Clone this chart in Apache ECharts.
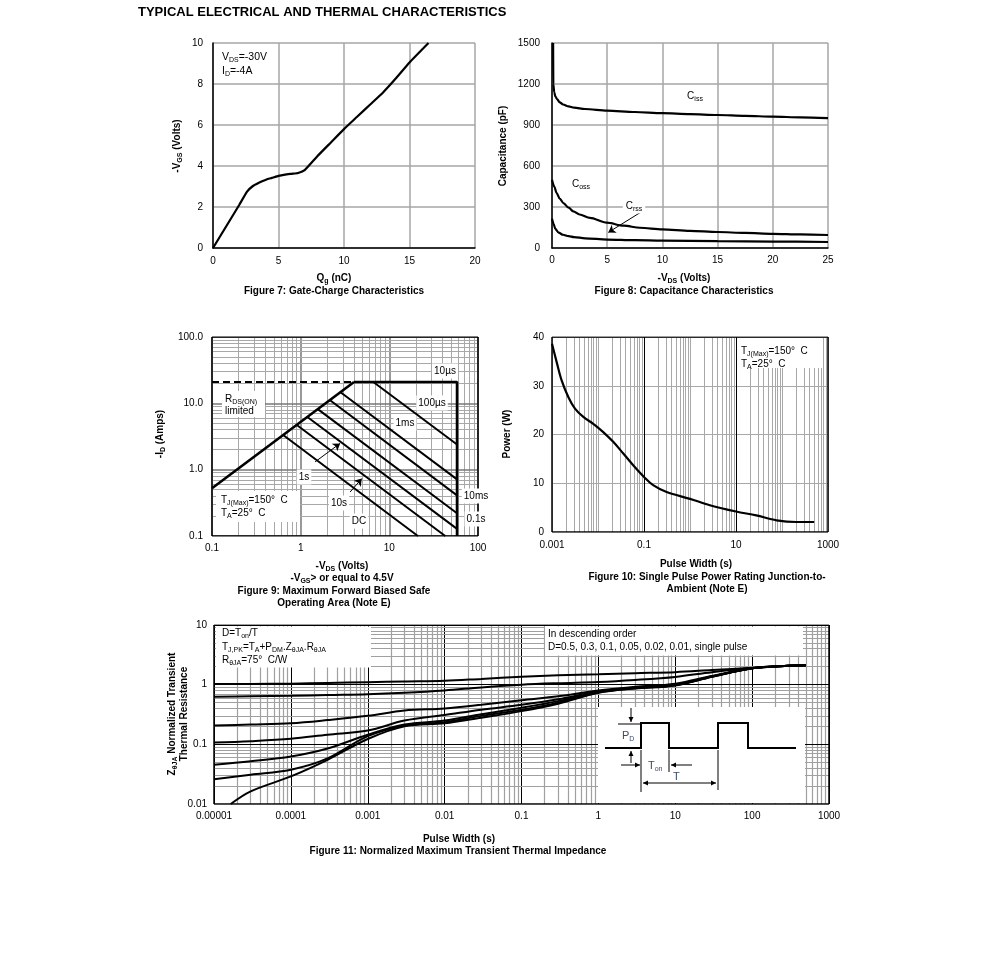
<!DOCTYPE html>
<html>
<head>
<meta charset="utf-8">
<title>Typical Electrical and Thermal Characteristics</title>
<script src="https://cdn.jsdelivr.net/npm/echarts@6/dist/echarts.min.js"></script>
<style>
html, body { margin:0; padding:0; background:#fff; }
#chart { width:991px; height:958px; }
</style>
</head>
<body>
<div id="chart"></div>
<script>
// ---------- Figure 7: gate charge ----------
const gateQg  = [0, 1, 2, 2.6, 3, 3.5, 4, 4.5, 5, 5.5, 6, 6.5, 7, 8, 9, 10, 11, 12, 13, 14, 15, 16.45];
const gateVgs = [0, 1.05, 2.1, 2.75, 3.0, 3.18, 3.32, 3.42, 3.52, 3.58, 3.62, 3.66, 3.8, 4.5, 5.15, 5.8, 6.4, 7.0, 7.6, 8.3, 9.05, 10];

// ---------- Figure 8: capacitance ----------
const cissVds = [0.1, 0.12, 0.2, 0.3, 0.45, 0.7, 1, 1.5, 2, 3, 5, 7.5, 10, 12.5, 15, 17.5, 20, 22.5, 25];
const cissPf  = [1500, 1200, 1140, 1110, 1090, 1066, 1050, 1036, 1027, 1017, 1005, 995, 987, 980, 973, 967, 961, 956, 951];
const cossVds = [0, 0.2, 0.42, 0.7, 1.03, 1.5, 1.93, 2.5, 3.44, 4.95, 6.5, 7.96, 10, 12.5, 15, 17.5, 20, 22.5, 25];
const cossPf  = [500, 450, 402, 362, 329, 295, 268, 245, 220, 185, 163, 148, 136, 125, 117, 110, 104, 99, 95];
const crssVds = [0, 0.15, 0.3, 0.6, 1, 1.5, 2, 3, 5, 7.5, 10, 15, 20, 25];
const crssPf  = [215, 175, 140, 112, 97, 87, 80, 71, 62, 57, 54, 50, 47, 44];
const crssArrowVds = [8.4, 5.1];
const crssArrowPf  = [280, 114];

// ---------- Figure 9: safe operating area ----------
const soaRdsVds  = [0.1, 4.0];
const soaRdsId   = [0.525, 21];
const soaDashVds = [0.1, 4.0];
const soaDashId  = [21, 21];
const soa10usVds = [4.0, 58, 58];
const soa10usId  = [21, 21, 0.1];
const soaPulseNames = ['100µs', '1ms', '10ms', '0.1s', '1s', '10s', 'DC'];
const soaStartVds = [6.6, 2.84, 2.11, 1.56, 1.17, 0.904, 0.64];
const soaStartId  = [21, 14.6, 11.3, 8.17, 6.32, 4.72, 3.3];
const soaEndVds   = [58, 58, 58, 58, 58, 42.7, 21];
const soaEndId    = [2.4, 0.715, 0.41, 0.22, 0.128, 0.1, 0.1];
const soaArrowFromVds = [1.454, 3.61];
const soaArrowFromId  = [1.31, 0.46];
const soaArrowToVds   = [2.785, 4.89];
const soaArrowToId    = [2.49, 0.733];

// ---------- Figure 10: single pulse power ----------
const spPulse = [0.001, 0.00126, 0.00162, 0.00226, 0.00316, 0.0048, 0.0079, 0.013, 0.0214, 0.0355, 0.0582, 0.1, 0.158, 0.31, 1, 2.7, 10, 27.5, 76, 204, 500];
const spPower = [38.6, 34.9, 31.1, 27.7, 25.3, 23.6, 22.2, 20.5, 18.5, 16.1, 13.7, 11.3, 9.6, 8.2, 6.8, 5.5, 4.2, 3.4, 2.4, 2.05, 2.05];

// ---------- Figure 11: transient thermal impedance ----------
const zthTime = [1e-5, 3e-5, 1e-4, 3e-4, 1e-3, 3e-3, 1e-2, 3e-2, 0.1, 0.3, 1, 3, 10, 30, 100, 300, 500];
const zthD05  = [1.03, 1.03, 1.04, 1.07, 1.10, 1.13, 1.16, 1.25, 1.36, 1.44, 1.50, 1.56, 1.62, 1.76, 1.92, 2.08, 2.12];
const zthD03  = [0.63, 0.64, 0.65, 0.67, 0.69, 0.73, 0.80, 0.90, 1.00, 1.06, 1.11, 1.20, 1.35, 1.62, 1.90, 2.08, 2.12];
const zthD01  = [0.207, 0.215, 0.226, 0.255, 0.30, 0.37, 0.40, 0.46, 0.55, 0.64, 0.80, 0.92, 1.04, 1.40, 1.89, 2.08, 2.12];
const zthD005 = [0.107, 0.113, 0.124, 0.145, 0.17, 0.25, 0.31, 0.38, 0.46, 0.57, 0.77, 0.90, 1.00, 1.38, 1.89, 2.08, 2.12];
const zthD002 = [0.0455, 0.052, 0.0625, 0.085, 0.145, 0.215, 0.25, 0.32, 0.41, 0.53, 0.75, 0.88, 0.99, 1.37, 1.89, 2.08, 2.12];
const zthD001 = [0.026, 0.031, 0.0375, 0.058, 0.137, 0.205, 0.235, 0.30, 0.38, 0.50, 0.74, 0.87, 0.98, 1.36, 1.89, 2.08, 2.12];
const zthSingleTime = [1.65e-5, 3e-5, 1e-4, 3e-4, 1e-3, 3e-3, 1e-2, 3e-2, 0.1, 0.3, 1, 3, 10, 30, 100, 300, 500];
const zthSingle = [0.01, 0.0163, 0.029, 0.055, 0.123, 0.2, 0.225, 0.28, 0.36, 0.48, 0.73, 0.86, 0.97, 1.35, 1.89, 2.08, 2.12];

// ---------- tick labels ----------
const fig9XTicks  = ['0.1', '1', '10', '100'];
const fig9YTicks  = ['0.1', '1.0', '10.0', '100.0'];
const fig10XTicks = ['0.001', '', '0.1', '', '10', '', '1000'];
const fig11XTicks = ['0.00001', '0.0001', '0.001', '0.01', '0.1', '1', '10', '100', '1000'];
const fig11YTicks = ['0.01', '0.1', '1', '10'];

// ================= build =================
const FONT = "'Liberation Sans', Arial, Helvetica, sans-serif";
const zip = (a, b) => a.map((v, i) => [v, b[i]]);
const plain = v => String(v);

function logFmt(labels, min) {
  return v => { const i = Math.round(Math.log10(v / min)); return labels[i] !== undefined ? labels[i] : ''; };
}
function logSteps(min, max) {
  const out = [];
  const d0 = Math.round(Math.log10(min)), d1 = Math.round(Math.log10(max));
  for (let d = d0; d <= d1; d++) {
    for (let k = 1; k <= 9; k++) {
      const v = +(k * Math.pow(10, d)).toPrecision(6);
      if (v > max * 1.0001) break;
      out.push({ v, k, d });
    }
  }
  return out;
}
function vLines(steps, y0, y1, sf) { return steps.map(o => ({ coords: [[o.v, y0], [o.v, y1]], lineStyle: sf(o) })); }
function hLines(steps, x0, x1, sf) { return steps.map(o => ({ coords: [[x0, o.v], [x1, o.v]], lineStyle: sf(o) })); }
function border(x0, x1, y0, y1, w) {
  return [[[x0, y0], [x1, y0]], [[x1, y0], [x1, y1]], [[x1, y1], [x0, y1]], [[x0, y1], [x0, y0]]]
    .map(c => ({ coords: c, lineStyle: { color: '#000', width: w, opacity: 1 } }));
}

// grid-line data
const minorSt = (c, w) => ({ color: c, width: w, opacity: 1 });
const fig9Grid = [].concat(
  vLines(logSteps(0.1, 100), 0.1, 100, o => o.k === 1 ? minorSt('#777', 1.5) : minorSt('#a8a8a8', 1)),
  hLines(logSteps(0.1, 100), 0.1, 100, o => o.k === 1 ? minorSt('#777', 1.5) : minorSt('#a8a8a8', 1)),
  border(0.1, 100, 0.1, 100, 1.5)
);
const fig10Grid = [].concat(
  vLines(logSteps(0.001, 1000), 0, 40, o => (o.k === 1 && (o.d === -1 || o.d === 1)) ? minorSt('#000', 1) : minorSt('#a8a8a8', 1)),
  border(0.001, 1000, 0, 40, 1.5)
);
const fig11Grid = [].concat(
  vLines(logSteps(1e-5, 1000), 0.01, 10, o => o.k === 1 ? minorSt('#000', 1) : minorSt('#a0a0a0', 1.2)),
  hLines(logSteps(0.01, 10), 1e-5, 1000, o => o.k === 1 ? minorSt('#000', 1) : minorSt('#a0a0a0', 1.2)),
  border(1e-5, 1000, 0.01, 10, 1.5)
);

function curve(name, data, xi, smooth, w, extra) {
  return Object.assign({
    name, type: 'line', xAxisIndex: xi, yAxisIndex: xi, data, showSymbol: false, symbol: 'none',
    smooth: smooth, lineStyle: { color: '#000', width: w }, z: 3, silent: true, animation: false
  }, extra || {});
}
function gridSeries(xi, data) {
  return { type: 'lines', coordinateSystem: 'cartesian2d', xAxisIndex: xi, yAxisIndex: xi, silent: true, z: 1,
    lineStyle: { opacity: 1, width: 1, curveness: 0 }, data, animation: false };
}
function arrowSeries(xi, froms, tos) {
  return { type: 'lines', coordinateSystem: 'cartesian2d', xAxisIndex: xi, yAxisIndex: xi, silent: true, z: 4,
    symbol: ['none', 'arrow'], symbolSize: 7,
    lineStyle: { color: '#000', width: 1, opacity: 1, curveness: 0 },
    data: froms.map((f, i) => ({ coords: [f, tos[i]] })), animation: false };
}

const lab = (margin, formatter) => ({ fontSize: 10, color: '#000', fontFamily: FONT, margin, formatter: formatter || plain, showMinLabel: true, showMaxLabel: true });
const split = { show: true, lineStyle: { color: '#a6a6a6', width: 1.5 } };
const blackAxis = { show: true, lineStyle: { color: '#000', width: 1.5 } };
const noTick = { show: false };

const xAxis = [
  { gridIndex: 0, type: 'value', min: 0, max: 20, interval: 5, axisLine: blackAxis, axisTick: noTick, splitLine: split, axisLabel: lab(8) },
  { gridIndex: 1, type: 'value', min: 0, max: 25, interval: 5, axisLine: blackAxis, axisTick: noTick, splitLine: split, axisLabel: lab(7) },
  { gridIndex: 2, type: 'log', logBase: 10, min: 0.1, max: 100, axisLine: { show: false }, axisTick: noTick, splitLine: { show: false }, axisLabel: lab(7, logFmt(fig9XTicks, 0.1)) },
  { gridIndex: 3, type: 'log', logBase: 10, min: 0.001, max: 1000, axisLine: { show: false }, axisTick: noTick, splitLine: { show: false }, axisLabel: lab(8, logFmt(fig10XTicks, 0.001)) },
  { gridIndex: 4, type: 'log', logBase: 10, min: 1e-5, max: 1000, axisLine: { show: false }, axisTick: noTick, splitLine: { show: false }, axisLabel: lab(7, logFmt(fig11XTicks, 1e-5)) }
];
const yAxis = [
  { gridIndex: 0, type: 'value', min: 0, max: 10, interval: 2, axisLine: blackAxis, axisTick: noTick, splitLine: split, axisLabel: lab(10) },
  { gridIndex: 1, type: 'value', min: 0, max: 1500, interval: 300, axisLine: blackAxis, axisTick: noTick, splitLine: split, axisLabel: lab(12) },
  { gridIndex: 2, type: 'log', logBase: 10, min: 0.1, max: 100, axisLine: { show: false }, axisTick: noTick, splitLine: { show: false }, axisLabel: lab(9, logFmt(fig9YTicks, 0.1)) },
  { gridIndex: 3, type: 'value', min: 0, max: 40, interval: 10, axisLine: { show: false }, axisTick: noTick, splitLine: { show: true, lineStyle: { color: '#a8a8a8', width: 1.2 } }, axisLabel: lab(8) },
  { gridIndex: 4, type: 'log', logBase: 10, min: 0.01, max: 10, axisLine: { show: false }, axisTick: noTick, splitLine: { show: false }, axisLabel: lab(7, logFmt(fig11YTicks, 0.01)) }
];

const series = [
  // fig 7
  curve('-VGS', zip(gateQg, gateVgs), 0, 0.15, 2.2),
  // fig 8
  curve('Ciss', zip(cissVds, cissPf), 1, 0.3, 2.2, { smoothMonotone: 'x' }),
  curve('Coss', zip(cossVds, cossPf), 1, 0.3, 2.2, { smoothMonotone: 'x' }),
  curve('Crss', zip(crssVds, crssPf), 1, 0.3, 2.2, { smoothMonotone: 'x' }),
  arrowSeries(1, [zip(crssArrowVds, crssArrowPf)[0]], [zip(crssArrowVds, crssArrowPf)[1]]),
  // fig 9
  gridSeries(2, fig9Grid),
  curve('RDS(ON) limited', zip(soaRdsVds, soaRdsId), 2, false, 2.6),
  curve('RDS(ON) dashed', zip(soaDashVds, soaDashId), 2, false, 2, { lineStyle: { color: '#000', width: 2, type: [7, 4] } }),
  curve('10µs', zip(soa10usVds, soa10usId), 2, false, 2.6),
  ...soaPulseNames.map((n, i) => curve(n, [[soaStartVds[i], soaStartId[i]], [soaEndVds[i], soaEndId[i]]], 2, false, 2)),
  arrowSeries(2, zip(soaArrowFromVds, soaArrowFromId), zip(soaArrowToVds, soaArrowToId)),
  // fig 10
  gridSeries(3, fig10Grid),
  curve('Power', zip(spPulse, spPower), 3, 0.35, 2.2),
  // fig 11
  gridSeries(4, fig11Grid),
  curve('D=0.5', zip(zthTime, zthD05), 4, 0.35, 2),
  curve('D=0.3', zip(zthTime, zthD03), 4, 0.35, 2),
  curve('D=0.1', zip(zthTime, zthD01), 4, 0.35, 2),
  curve('D=0.05', zip(zthTime, zthD005), 4, 0.35, 2),
  curve('D=0.02', zip(zthTime, zthD002), 4, 0.35, 2),
  curve('D=0.01', zip(zthTime, zthD001), 4, 0.35, 2),
  curve('single pulse', zip(zthSingleTime, zthSingle), 4, 0.35, 2)
];

// ---------- graphic helpers (annotations, captions) ----------
function T(x, y, text, o) {
  o = o || {};
  const size = o.size || 10, weight = o.bold ? 'bold' : 'normal', color = o.color || '#000';
  const st = {
    text, fill: color, fontSize: size, fontWeight: weight, fontFamily: FONT,
    align: o.align || 'left', verticalAlign: 'middle', lineHeight: size + 3,
    rich: { s: { fontSize: Math.round(size * 0.68), fontWeight: weight, fontFamily: FONT, fill: color, lineHeight: size + 3, verticalAlign: 'bottom' } }
  };
  if (o.bg) { st.backgroundColor = o.bg; st.padding = o.pad || [1, 2]; }
  return { type: 'text', x, y, rotation: o.rot || 0, z: 100, silent: true, style: st };
}
function R(x, y, w, h) { return { type: 'rect', z: 90, silent: true, shape: { x, y, width: w, height: h }, style: { fill: '#fff' } }; }
function P(points, w) { return { type: 'polyline', z: 101, silent: true, shape: { points }, style: { stroke: '#000', lineWidth: w, fill: null } }; }
function head(x, y, dx, dy) {
  const len = Math.hypot(dx, dy), ux = dx / len, uy = dy / len, s = 5, hw = 2.5;
  return { type: 'polygon', z: 101, silent: true,
    shape: { points: [[x, y], [x - ux * s - uy * hw, y - uy * s + ux * hw], [x - ux * s + uy * hw, y - uy * s - ux * hw]] },
    style: { fill: '#000' } };
}
function A(x1, y1, x2, y2, both) {
  const out = [P([[x1, y1], [x2, y2]], 1), head(x2, y2, x2 - x1, y2 - y1)];
  if (both) out.push(head(x1, y1, x1 - x2, y1 - y2));
  return out;
}
const ROT = Math.PI / 2;
const B = { bold: true, align: 'center' };
const BR = { bold: true, align: 'center', rot: ROT };
const LBL = { align: 'center', bg: '#fff', pad: [1, 2] };
const INK = '#3b4b6b';

const graphic = [
  T(138, 12, 'TYPICAL ELECTRICAL AND THERMAL CHARACTERISTICS', { size: 13, bold: true }),
  // fig 7
  R(214, 44, 63, 36),
  T(222, 57, 'V{s|DS}=-30V', { size: 10.5 }),
  T(222, 71, 'I{s|D}=-4A', { size: 10.5 }),
  T(334, 278, 'Q{s|g} (nC)', B),
  T(334, 291, 'Figure 7: Gate-Charge Characteristics', B),
  T(177, 146, '-V{s|GS} (Volts)', BR),
  // fig 8
  T(695, 96, 'C{s|iss}', { align: 'center' }),
  T(581, 184, 'C{s|oss}', { align: 'center' }),
  T(634, 206, 'C{s|rss}', { align: 'center', bg: '#fff', pad: [1, 3] }),
  T(684, 278, '-V{s|DS} (Volts)', B),
  T(684, 291, 'Figure 8: Capacitance Characteristics', B),
  T(503, 146, 'Capacitance (pF)', BR),
  // fig 9
  T(445, 371, '10µs', LBL),
  T(432, 403, '100µs', LBL),
  T(405, 423, '1ms', LBL),
  T(476, 496, '10ms', LBL),
  T(476, 519, '0.1s', LBL),
  T(304, 477, '1s', LBL),
  T(339, 503, '10s', LBL),
  T(359, 521, 'DC', LBL),
  R(222, 391, 43, 26),
  T(225, 399, 'R{s|DS(ON)}'),
  T(225, 411, 'limited'),
  R(216, 491, 84, 31),
  T(221, 500, 'T{s|J(Max)}=150°  C'),
  T(221, 513, 'T{s|A}=25°  C'),
  T(342, 566, '-V{s|DS} (Volts)', B),
  T(342, 578, '-V{s|GS}> or equal to 4.5V', B),
  T(334, 591, 'Figure 9: Maximum Forward Biased Safe', B),
  T(334, 603, 'Operating Area (Note E)', B),
  T(160, 434, '-I{s|D} (Amps)', BR),
  // fig 10
  R(737, 338, 86, 30),
  T(741, 351, 'T{s|J(Max)}=150°  C'),
  T(741, 364, 'T{s|A}=25°  C'),
  T(696, 564, 'Pulse Width (s)', B),
  T(707, 577, 'Figure 10: Single Pulse Power Rating Junction-to-', B),
  T(707, 589, 'Ambient (Note E)', B),
  T(507, 434, 'Power (W)', BR),
  // fig 11
  R(216, 626.5, 155, 41),
  T(222, 633, 'D=T{s|on}/T'),
  T(222, 647, 'T{s|J,PK}=T{s|A}+P{s|DM}.Z{s|θJA}.R{s|θJA}'),
  T(222, 660, 'R{s|θJA}=75°  C/W'),
  R(545, 626.5, 258, 29),
  T(548, 634, 'In descending order'),
  T(548, 647, 'D=0.5, 0.3, 0.1, 0.05, 0.02, 0.01, single pulse'),
  R(598, 707, 207, 96),
  P([[605, 748], [641, 748], [641, 723], [669, 723], [669, 748], [718, 748], [718, 723], [748, 723], [748, 748], [796, 748]], 2),
  P([[618, 724], [641, 724]], 1),
  ...A(631, 708, 631, 722),
  ...A(631, 763, 631, 751),
  ...A(621, 765, 640, 765),
  ...A(692, 765, 671, 765),
  P([[641, 750], [641, 792]], 1),
  P([[669, 750], [669, 772]], 1),
  P([[718, 750], [718, 790]], 1),
  ...A(643, 783, 716, 783, true),
  T(622, 736, 'P{s|D}', { size: 11, color: INK }),
  T(648, 766, 'T{s|on}', { size: 11, color: INK }),
  T(673, 777, 'T', { size: 11, color: INK }),
  T(459, 839, 'Pulse Width (s)', B),
  T(458, 851, 'Figure 11: Normalized Maximum Transient Thermal Impedance', B),
  T(172, 714, 'Z{s|θJA} Normalized Transient', BR),
  T(184, 714, 'Thermal Resistance', BR)
];

const grids = [
  { left: 213, top: 43, width: 262, height: 205 },
  { left: 552, top: 43, width: 276, height: 205 },
  { left: 212, top: 337, width: 266, height: 199 },
  { left: 552, top: 337, width: 276, height: 195 },
  { left: 214, top: 625, width: 615, height: 179 }
].map(g => Object.assign({ containLabel: false, outerBoundsMode: 'none' }, g));

const chart = echarts.init(document.getElementById('chart'), null, { renderer: 'canvas' });
chart.setOption({
  animation: false,
  backgroundColor: '#fff',
  textStyle: { fontFamily: FONT },
  grid: grids,
  xAxis, yAxis, series, graphic
});
</script>
</body>
</html>
